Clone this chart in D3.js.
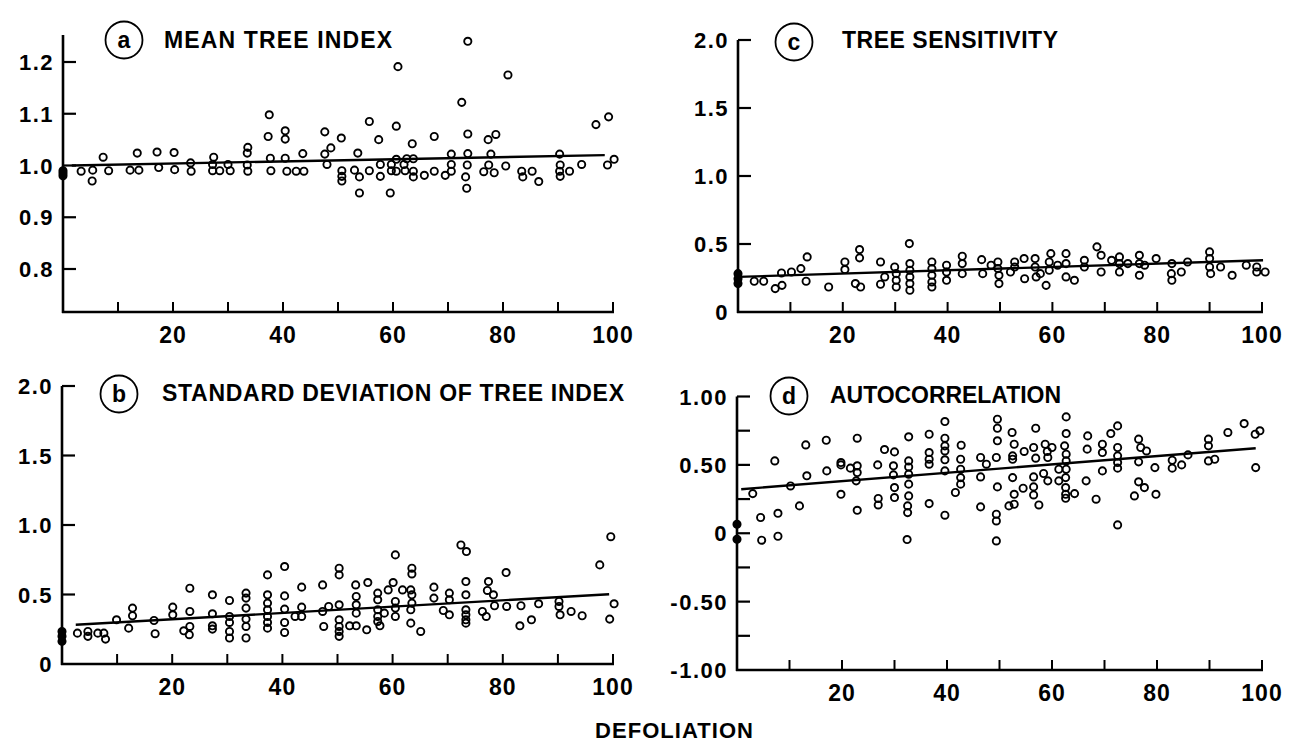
<!DOCTYPE html>
<html>
<head>
<meta charset="utf-8">
<script src="https://cdn.jsdelivr.net/npm/d3@7"></script>
<style>
  html, body { margin: 0; padding: 0; background: #fff; }
  svg text { font-family: "Liberation Sans", Arial, sans-serif; font-weight: bold; fill: #000; }
</style>
</head>
<body>
<svg id="chart" width="1293" height="753"></svg>
<script>
// (a) mean tree index vs defoliation
var meanIndexPts = [
  [0,0.98],[0,0.985],[0,0.99],
  [3.3,0.989],[5.4,0.991],[5.3,0.970],[7.3,1.016],[8.3,0.990],[12.2,0.991],[13.5,1.024],[13.8,0.991],
  [17.1,1.026],[17.4,0.996],[20.2,1.025],[20.3,0.992],[23.2,1.005],[23.3,0.989],[27.4,1.016],[27.2,1.002],
  [27.2,0.990],[28.5,0.990],[30.0,1.002],[30.4,0.990],[33.6,1.035],[33.5,1.024],[33.5,1.001],[33.6,0.989],
  [37.5,1.098],[37.3,1.056],[37.7,1.014],[37.8,0.990],[40.4,1.067],[40.4,1.051],[40.4,1.014],[40.7,0.989],
  [42.4,0.989],[43.6,1.023],[43.8,0.989],[47.6,1.065],[48.7,1.034],[47.6,1.022],[48.0,1.002],[50.6,1.053],
  [50.7,0.990],[50.7,0.979],[50.7,0.970],[53.6,1.024],[53.0,0.991],[53.9,0.978],[53.9,0.947],[55.7,1.085],
  [55.7,0.990],[57.4,1.050],[57.7,1.002],[57.7,0.979],[59.5,0.947],[59.7,1.002],[59.7,0.990],[60.9,1.191],
  [60.6,1.076],[60.6,1.012],[60.6,0.989],[62.0,1.002],[62.2,0.990],[62.5,1.013],[63.5,1.042],[63.7,1.013],
  [63.7,0.989],[63.7,0.978],[65.7,0.981],[67.5,1.056],[67.5,0.989],[69.5,0.981],[70.6,1.022],[70.6,1.002],
  [70.6,0.989],[72.5,1.122],[73.6,1.240],[73.6,1.061],[73.6,1.023],[73.5,1.001],[73.2,0.978],[73.4,0.956],
  [76.5,0.988],[77.3,1.050],[77.8,1.022],[77.4,1.001],[78.4,0.986],[78.7,1.060],[80.9,1.175],[80.5,0.999],
  [83.4,0.989],[83.6,0.978],[85.3,0.989],[86.5,0.969],[90.3,1.022],[90.4,1.001],[90.3,0.989],[90.4,0.979],
  [92.1,0.989],[94.3,1.002],[96.9,1.079],[99.2,1.094],[99.0,1.001],[100.2,1.012]
];
var meanIndexFit = [[1.6,1.0],[98.5,1.02]];

// (b) standard deviation of tree index
var sdIndexPts = [
  [0,0.234],[0,0.199],[0,0.163],
  [2.8,0.222],[4.7,0.234],[4.7,0.199],[6.5,0.222],[7.6,0.222],[7.9,0.179],[9.9,0.318],[12.1,0.258],
  [12.8,0.402],[12.8,0.347],[16.7,0.313],[16.9,0.218],[20.1,0.409],[20.1,0.354],[22.1,0.239],[23.1,0.211],
  [23.2,0.545],[23.2,0.378],[23.2,0.270],[27.3,0.498],[27.3,0.361],[27.3,0.275],[27.3,0.251],[30.4,0.457],
  [30.4,0.342],[30.4,0.299],[30.4,0.234],[30.4,0.187],[33.4,0.510],[33.4,0.474],[33.4,0.402],[33.4,0.323],
  [33.4,0.270],[33.4,0.187],[37.3,0.641],[37.3,0.498],[37.3,0.438],[37.3,0.390],[37.3,0.342],[37.3,0.299],
  [37.3,0.258],[40.4,0.701],[40.4,0.490],[40.4,0.395],[40.4,0.299],[40.4,0.227],[42.3,0.342],[43.5,0.553],
  [43.5,0.409],[43.5,0.342],[47.3,0.569],[47.3,0.378],[47.5,0.270],[48.4,0.414],[50.3,0.689],[50.3,0.641],
  [50.3,0.426],[50.3,0.318],[50.3,0.270],[50.3,0.234],[50.3,0.199],[52.2,0.275],[53.3,0.569],[53.4,0.486],
  [53.4,0.426],[53.4,0.366],[53.4,0.275],[55.5,0.586],[55.3,0.246],[57.3,0.510],[57.3,0.462],[57.3,0.390],
  [57.3,0.342],[57.3,0.306],[57.7,0.275],[58.5,0.366],[59.2,0.533],[60.1,0.586],[60.5,0.785],[60.5,0.450],
  [60.5,0.402],[60.5,0.342],[61.8,0.533],[63.3,0.533],[63.5,0.498],[63.5,0.438],[63.3,0.390],[63.3,0.294],
  [63.5,0.689],[63.5,0.648],[65.1,0.234],[67.5,0.553],[67.5,0.474],[69.2,0.385],[70.3,0.510],[70.3,0.462],
  [70.3,0.354],[72.4,0.856],[73.4,0.809],[73.3,0.593],[73.3,0.498],[73.3,0.390],[73.3,0.354],[73.3,0.318],
  [73.3,0.294],[76.3,0.378],[77.0,0.342],[77.4,0.593],[77.2,0.529],[78.3,0.498],[78.5,0.419],[80.6,0.658],
  [80.7,0.414],[83.3,0.419],[83.1,0.275],[85.2,0.318],[86.5,0.433],[90.2,0.450],[90.2,0.414],[90.4,0.354],
  [92.4,0.378],[94.4,0.347],[97.6,0.713],[99.4,0.323],[99.6,0.916],[100.2,0.433]
];
var sdIndexFit = [[2.5,0.282],[99.3,0.502]];

// (c) tree sensitivity
var sensPts = [
  [0,0.282],[0,0.245],[0,0.209],
  [3.1,0.226],[4.9,0.226],[7.1,0.172],[8.3,0.287],[8.4,0.196],[10.2,0.294],[12.0,0.319],[13.2,0.405],
  [13.0,0.226],[17.3,0.184],[20.4,0.368],[20.4,0.312],[23.2,0.459],[23.2,0.398],[22.4,0.209],[23.4,0.184],
  [27.2,0.368],[28.0,0.258],[27.2,0.204],[29.9,0.331],[30.2,0.282],[30.2,0.233],[30.2,0.184],[32.7,0.503],
  [32.8,0.356],[32.8,0.307],[32.8,0.258],[32.8,0.209],[32.8,0.160],[37.0,0.368],[37.0,0.319],[37.0,0.270],
  [37.0,0.221],[37.0,0.184],[39.8,0.344],[39.8,0.294],[39.8,0.233],[42.8,0.410],[42.8,0.356],[42.8,0.282],
  [46.5,0.385],[46.7,0.282],[48.3,0.344],[49.6,0.368],[49.6,0.319],[49.8,0.270],[49.8,0.209],[52.0,0.294],
  [52.8,0.368],[52.8,0.331],[54.6,0.393],[54.7,0.245],[56.7,0.393],[56.7,0.331],[56.9,0.258],[57.7,0.282],
  [58.8,0.196],[59.4,0.368],[59.4,0.307],[59.7,0.429],[61.0,0.344],[62.6,0.429],[62.6,0.356],[62.6,0.258],
  [64.2,0.233],[66.1,0.380],[66.1,0.331],[68.5,0.479],[69.3,0.417],[69.3,0.294],[71.3,0.380],[72.8,0.405],
  [72.8,0.356],[72.8,0.294],[74.4,0.356],[76.6,0.417],[76.6,0.356],[76.6,0.270],[77.6,0.344],[79.8,0.393],
  [82.8,0.356],[82.7,0.282],[82.8,0.233],[84.6,0.294],[85.8,0.368],[90.0,0.442],[90.0,0.393],[90.0,0.331],
  [90.2,0.282],[92.1,0.331],[94.3,0.270],[97.0,0.344],[99.0,0.331],[99.0,0.294],[100.6,0.294]
];
var sensFit = [[0,0.258],[100.2,0.380]];

// (d) autocorrelation
var autoPts = [
  [0,0.066],[0,-0.044],
  [3.0,0.290],[4.5,0.115],[4.7,-0.051],[7.2,0.529],[7.8,0.146],[7.8,-0.022],[10.2,0.346],[11.9,0.200],
  [13.1,0.646],[13.3,0.420],[17.0,0.680],[17.1,0.456],[19.8,0.517],[19.8,0.500],[19.8,0.285],[21.6,0.476],
  [22.9,0.695],[22.9,0.493],[22.9,0.444],[22.7,0.383],[22.9,0.168],[26.8,0.500],[26.9,0.254],[26.9,0.207],
  [28.1,0.612],[30.0,0.595],[29.8,0.493],[29.8,0.427],[30.0,0.334],[30.0,0.261],[32.7,0.705],[32.7,0.529],
  [32.7,0.485],[32.7,0.432],[32.7,0.359],[32.7,0.273],[32.5,0.200],[32.5,0.151],[32.4,-0.046],[36.6,0.724],
  [36.6,0.590],[36.6,0.541],[36.6,0.505],[36.6,0.217],[39.6,0.817],[39.6,0.695],[39.6,0.639],[39.6,0.602],
  [39.6,0.537],[39.6,0.456],[39.6,0.132],[41.6,0.298],[42.7,0.644],[42.6,0.541],[42.6,0.468],[42.6,0.407],
  [42.6,0.359],[46.4,0.554],[47.5,0.505],[46.4,0.412],[46.4,0.193],[49.6,0.834],[49.6,0.768],[49.6,0.676],
  [49.4,0.554],[49.6,0.339],[49.4,0.139],[49.4,0.090],[49.4,-0.056],[51.8,0.200],[52.4,0.737],[52.8,0.651],
  [52.5,0.566],[52.5,0.541],[52.5,0.407],[52.8,0.285],[52.8,0.212],[54.5,0.329],[54.7,0.598],[56.5,0.627],
  [56.9,0.768],[56.9,0.549],[56.5,0.412],[56.5,0.339],[56.5,0.280],[57.5,0.207],[58.4,0.437],[58.7,0.651],
  [59.1,0.598],[59.2,0.554],[59.2,0.383],[60.0,0.627],[61.3,0.468],[61.3,0.383],[62.4,0.639],[62.7,0.578],
  [62.7,0.529],[62.7,0.468],[62.7,0.851],[62.7,0.729],[62.6,0.407],[62.6,0.334],[62.6,0.285],[62.6,0.256],
  [64.3,0.290],[66.7,0.615],[66.8,0.712],[66.5,0.383],[68.4,0.249],[69.6,0.651],[69.6,0.590],[69.6,0.456],
  [71.2,0.729],[72.5,0.785],[72.5,0.627],[72.5,0.566],[72.5,0.517],[72.5,0.476],[72.5,0.061],[75.7,0.273],
  [76.5,0.688],[76.9,0.627],[76.5,0.522],[76.5,0.376],[77.6,0.334],[78.0,0.602],[79.6,0.480],[79.8,0.285],
  [82.9,0.534],[82.9,0.476],[84.7,0.500],[85.9,0.573],[89.8,0.688],[89.8,0.639],[89.8,0.529],[91.0,0.541],
  [93.5,0.737],[96.6,0.802],[98.7,0.724],[99.6,0.749],[98.8,0.480]
];
var autoFit = [[0.8,0.322],[98.8,0.622]];

var xMinorTicks = [10,20,30,40,50,60,70,80,90,100];
var xTickLabels = [20,40,60,80,100];
var meanIndexTicks = [0.8,0.9,1.0,1.1,1.2];
var meanIndexLabels = ["0.8","0.9","1.0","1.1","1.2"];
var zeroTwoTicks = [0,0.5,1.0,1.5,2.0];
var zeroTwoLabels = ["0","0.5","1.0","1.5","2.0"];
var autoTicks = [-1,-0.75,-0.5,-0.25,0,0.25,0.5,0.75,1];
var autoLabels = {"-1": "-1.00", "-0.5": "-0.50", "0": "0", "0.5": "0.50", "1": "1.00"};

var panels = [
  {letter: "a", title: "MEAN TREE INDEX", pts: meanIndexPts, fit: meanIndexFit,
   x0: 63, x1: 613, yDomain: [0.8, 1.2], yRange: [269, 62], yBottom: 312, yTop: 35,
   ticks: meanIndexTicks, label: function(v, i) { return meanIndexLabels[i]; },
   circle: [124, 40], titleX: 164, titleY: 48, titleLen: 228},
  {letter: "b", title: "STANDARD DEVIATION OF TREE INDEX", pts: sdIndexPts, fit: sdIndexFit,
   x0: 62, x1: 613, yDomain: [0, 2], yRange: [664, 386], yBottom: 664, yTop: 386,
   ticks: zeroTwoTicks, label: function(v, i) { return zeroTwoLabels[i]; },
   circle: [119, 394], titleX: 162, titleY: 401, titleLen: 462},
  {letter: "c", title: "TREE SENSITIVITY", pts: sensPts, fit: sensFit,
   x0: 738, x1: 1262, yDomain: [0, 2], yRange: [312, 40], yBottom: 312, yTop: 40,
   ticks: zeroTwoTicks, label: function(v, i) { return zeroTwoLabels[i]; },
   circle: [794, 42], titleX: 842, titleY: 48, titleLen: 216},
  {letter: "d", title: "AUTOCORRELATION", pts: autoPts, fit: autoFit,
   x0: 737, x1: 1262, yDomain: [-1, 1], yRange: [670, 396.5], yBottom: 670, yTop: 396.5,
   ticks: autoTicks, label: function(v) { return autoLabels[String(v)] || ""; },
   circle: [789, 396], titleX: 830, titleY: 403, titleLen: 231}
];

var svg = d3.select("#chart");

panels.forEach(function(p) {
    var x = d3.scaleLinear().domain([0, 100]).range([p.x0, p.x1]);
    var y = d3.scaleLinear().domain(p.yDomain).range(p.yRange);
    var g = svg.append("g");

    // axes
    g.append("line")
        .attr("x1", p.x0).attr("x2", p.x0)
        .attr("y1", p.yTop).attr("y2", p.yBottom + 1)
        .attr("stroke", "#000").attr("stroke-width", 2.6);
    g.append("line")
        .attr("x1", p.x0 - 1).attr("x2", x(100) + 1)
        .attr("y1", p.yBottom).attr("y2", p.yBottom)
        .attr("stroke", "#000").attr("stroke-width", 2.6);

    g.selectAll(".xtick")
        .data(xMinorTicks)
        .enter().append("line")
        .attr("x1", function(d) { return x(d); })
        .attr("x2", function(d) { return x(d); })
        .attr("y1", p.yBottom).attr("y2", p.yBottom - 10)
        .attr("stroke", "#000").attr("stroke-width", 2);

    g.selectAll(".xlab")
        .data(xTickLabels)
        .enter().append("text")
        .attr("x", function(d) { return x(d); })
        .attr("y", p.yBottom + 31)
        .attr("text-anchor", "middle")
        .style("font-size", "23px")
        .style("letter-spacing", "1px")
        .text(function(d) { return d; });

    g.selectAll(".ytick")
        .data(p.ticks.filter(function(t) { return y(t) < p.yBottom - 1; }))
        .enter().append("line")
        .attr("x1", p.x0).attr("x2", p.x0 + 13)
        .attr("y1", function(d) { return y(d); })
        .attr("y2", function(d) { return y(d); })
        .attr("stroke", "#000").attr("stroke-width", 2.2);

    g.selectAll(".ylab")
        .data(p.ticks)
        .enter().append("text")
        .attr("x", p.x0 - 9)
        .attr("y", function(d) { return y(d) + 8; })
        .attr("text-anchor", "end")
        .style("font-size", "22px")
        .style("letter-spacing", "1.5px")
        .text(function(d, i) { return p.label(d, i); });

    // regression line
    g.append("path")
        .datum(p.fit)
        .attr("d", d3.line().x(function(d) { return x(d[0]); }).y(function(d) { return y(d[1]); }))
        .attr("fill", "none")
        .attr("stroke", "#000")
        .attr("stroke-width", 2.4);

    // points
    g.selectAll(".pt")
        .data(p.pts)
        .enter().append("circle")
        .attr("cx", function(d) { return x(d[0]); })
        .attr("cy", function(d) { return y(d[1]); })
        .attr("r", 3.6)
        .attr("fill", function(d) { return d[0] === 0 ? "#000" : "none"; })
        .attr("stroke", "#000")
        .attr("stroke-width", 1.9);

    // panel label
    g.append("circle")
        .attr("cx", p.circle[0]).attr("cy", p.circle[1])
        .attr("r", 18.5)
        .attr("fill", "none").attr("stroke", "#000").attr("stroke-width", 1.8);
    g.append("text")
        .attr("x", p.circle[0]).attr("y", p.circle[1] + 8)
        .attr("text-anchor", "middle")
        .style("font-size", "23px")
        .text(p.letter);
    g.append("text")
        .attr("x", p.titleX).attr("y", p.titleY)
        .attr("textLength", p.titleLen)
        .attr("lengthAdjust", "spacing")
        .style("font-size", "23px")
        .text(p.title);
});

svg.append("text")
    .attr("x", 674).attr("y", 738)
    .attr("text-anchor", "middle")
    .attr("textLength", 158)
    .attr("lengthAdjust", "spacing")
    .style("font-size", "22px")
    .text("DEFOLIATION");
</script>
</body>
</html>
